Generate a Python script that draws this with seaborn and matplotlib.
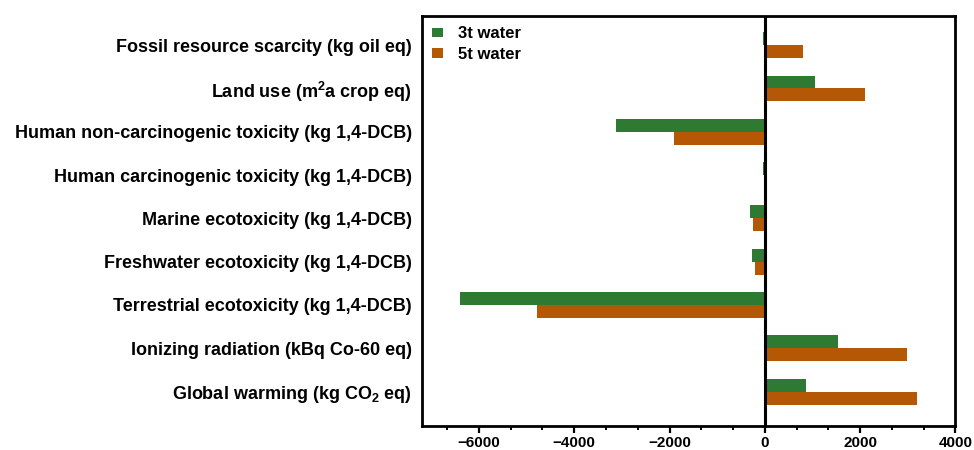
import matplotlib
matplotlib.use('Agg')
import matplotlib.pyplot as plt
import seaborn as sns
import pandas as pd
from matplotlib.ticker import MultipleLocator

# impact categories, top to bottom
categories = [
    'Fossil resource scarcity (kg oil eq)',
    'Land use (m$^2$a crop eq)',
    'Human non-carcinogenic toxicity (kg 1,4-DCB)',
    'Human carcinogenic toxicity (kg 1,4-DCB)',
    'Marine ecotoxicity (kg 1,4-DCB)',
    'Freshwater ecotoxicity (kg 1,4-DCB)',
    'Terrestrial ecotoxicity (kg 1,4-DCB)',
    'Ionizing radiation (kBq Co-60 eq)',
    'Global warming (kg CO$_2$ eq)',
]
water_3t = [-30, 1060, -3130, -30, -310, -270, -6390, 1530, 870]
water_5t = [790, 2110, -1900, 30, -240, -210, -4790, 2980, 3190]
series = ['3t water', '5t water']
colors = ['#2f7a32', '#b55805']

df = pd.DataFrame({
    'category': categories * 2,
    'value': water_3t + water_5t,
    'scenario': [series[0]] * len(categories) + [series[1]] * len(categories),
})

sns.set_style('ticks')
plt.rcParams['font.family'] = ['Liberation Sans', 'DejaVu Sans']
plt.rcParams['font.weight'] = 'bold'
plt.rcParams['mathtext.default'] = 'regular'
for k in ['text.color', 'axes.labelcolor', 'xtick.color', 'ytick.color', 'axes.edgecolor']:
    plt.rcParams[k] = 'black'

fig = plt.figure(figsize=(9.74, 4.5), dpi=100)
ax = fig.add_axes([0.433, 0.053, 0.548, 0.911])

sns.barplot(data=df, x='value', y='category', hue='scenario', orient='h',
            palette=colors, width=0.6, saturation=1, linewidth=0, ax=ax)

ax.axvline(0, color='black', lw=2.2, zorder=5)
ax.set_xlim(-7200, 4000)
ax.set_ylim(len(categories) - 1 + 0.8, -0.67)
ax.xaxis.set_major_locator(MultipleLocator(2000))
ax.xaxis.set_minor_locator(MultipleLocator(2000 / 3))
ax.tick_params(axis='x', which='major', length=5, width=1.6, labelsize=11, pad=2, direction='out')
ax.tick_params(axis='x', which='minor', length=3, width=1.4, direction='out')
ax.tick_params(axis='y', length=0, labelsize=13, pad=7)
for lab in ax.get_xticklabels() + ax.get_yticklabels():
    lab.set_fontweight('bold')
ax.set_xlabel('')
ax.set_ylabel('')
for sp in ax.spines.values():
    sp.set_linewidth(2)
    sp.set_visible(True)

leg = ax.legend(loc='upper left', frameon=False, fontsize=12, handlelength=0.7,
                handleheight=0.5, handletextpad=0.9, labelspacing=0.35,
                borderaxespad=0.2, bbox_to_anchor=(0.0, 1.0))
for t in leg.get_texts():
    t.set_fontweight('bold')

fig.savefig('out.png', dpi=100)
